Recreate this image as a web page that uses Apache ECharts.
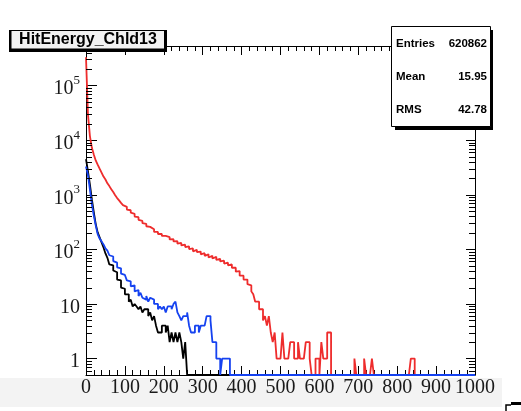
<!DOCTYPE html>
<html>
<head>
<meta charset="utf-8">
<script src="https://cdn.jsdelivr.net/npm/echarts@6/dist/echarts.min.js"></script>
<style>
  html, body { margin: 0; padding: 0; background: #ffffff; }
  #chart { width: 521px; height: 411px; }
</style>
</head>
<body>
<div id="chart"></div>
<script>
// Histogram binning and axis ranges
const binWidth = 5;
const xMin = 0;
const xMax = 1000;
const xTickStep = 100;
const yMin = 0.5;
const yMax = 5.3e5;
const yDecades = [0, 1, 2, 3, 4, 5];

// Bin contents (bin i covers [i*binWidth, (i+1)*binWidth)); missing bins are empty
const redCounts = [
  331000, 30000, 12000, 7300, 5450, 4250, 3550, 3000, 2550, 2150,
  1900, 1620, 1440, 1260, 1120, 980, 870, 790, 710, 645,
  600, 535, 520, 470, 448, 398, 388, 348, 332, 302,
  294, 265, 258, 238, 233, 209, 209, 191, 192, 176,
  176, 165, 168, 152, 153, 140, 141, 127, 131, 118,
  122, 110, 113, 101, 104, 92, 98, 89, 91, 81,
  85, 76, 81, 71, 76, 68, 73, 64, 67, 60,
  62, 55, 57, 51, 53, 46, 46, 39, 40, 33,
  33, 28, 28, 23, 22, 17, 15, 11, 11, 8,
  8, 5, 6, 4, 6, 3, 2, 3, 1, 1,
  1, 3, 1, 1, 1, 2, 2, 1, 1, 2,
  1, 1, 1, 2, 2, 1, 0, 0, 1, 1,
  0, 2, 1, 1, 3, 3, 0, 0, 0, 0,
  0, 0, 0, 0, 0, 0, 0, 0, 1, 0,
  0, 0, 0, 1, 0, 0, 0, 1, 0, 0,
  0, 0, 0, 0, 0, 0, 0, 0, 0, 0,
  0, 0, 0, 0, 0, 0, 0, 1, 1
];
const blackCounts = [
  4500, 2700, 1550, 830, 480, 290, 205, 166, 134, 108,
  84, 70, 53, 51, 41, 38, 28, 27, 20, 19,
  15, 15, 11, 12, 9, 10, 9, 8, 9, 7,
  8, 8, 6, 7, 5, 6, 4, 3, 3, 4,
  4, 3, 4, 2, 3, 2, 3, 2, 3, 2,
  1, 2
];
const blueCounts = [
  3300, 2300, 1260, 670, 420, 275, 190, 158, 140, 123,
  104, 95, 78, 74, 61, 57, 47, 45, 36, 34,
  33, 27, 26, 21, 22, 17, 18, 14, 16, 13,
  12, 14, 11, 13, 12, 10, 10, 8, 9, 8,
  9, 7, 9, 9, 8, 10, 11, 7, 6, 5,
  6, 6, 7, 4, 3, 3, 4, 4, 3, 4,
  4, 4, 6, 6, 5, 2, 2, 1, 1, 0,
  1, 1, 1, 1
];

const titleText = 'HitEnergy_Chld13';
const statsRows = [
  ['Entries', '620862'],
  ['Mean', '15.95'],
  ['RMS', '42.78']
];

// Outline of a histogram as step points; empty bins sit on the frame bottom
function stepPoints(counts) {
  const n = Math.round((xMax - xMin) / binWidth);
  const pts = [];
  for (let i = 0; i < n; i++) {
    const c = counts[i] || 0;
    pts.push([xMin + i * binWidth, c > 0 ? c : yMin]);
  }
  pts.push([xMax, pts[pts.length - 1][1]]);
  return pts;
}

// Minor tick positions on the log axis: 2..9 x 10^k
const yMinorTicks = [];
for (let e = -1; e <= 5; e++) {
  for (let m = 2; m <= 9; m++) {
    const v = m * Math.pow(10, e);
    if (v > yMin && v < yMax) yMinorTicks.push([xMin, v]);
  }
}

function yLabel(v) {
  const e = Math.round(Math.log10(v));
  if (yDecades.indexOf(e) < 0 || Math.abs(v - Math.pow(10, e)) > 1e-6 * v) return '';
  if (e === 0) return '{b|1}';
  if (e === 1) return '{b|10}';
  return '{b|10}{s|' + e + '}';
}

const serif = '"Liberation Serif", "DejaVu Serif", serif';
const sans = '"Liberation Sans", Arial, sans-serif';

const chart = echarts.init(document.getElementById('chart'), null, { renderer: 'canvas' });

const lineSeries = (name, counts, color, width) => ({
  name: name,
  type: 'line',
  step: 'end',
  data: stepPoints(counts),
  showSymbol: false,
  symbol: 'none',
  clip: true,
  lineStyle: { color: color, width: width },
  xAxisIndex: 0,
  yAxisIndex: 0,
  animation: false
});

const frameAxisX = (pos, showLabel) => ({
  type: 'value',
  position: pos,
  min: xMin,
  max: xMax,
  interval: xTickStep,
  axisLine: { show: true, onZero: false, lineStyle: { color: '#000', width: 1 } },
  axisTick: { show: true, inside: true, length: 9, lineStyle: { color: '#000' } },
  minorTick: { show: true, splitNumber: 5, length: 5, lineStyle: { color: '#000' } },
  splitLine: { show: false },
  axisLabel: {
    show: showLabel,
    margin: 3,
    color: '#1a1a1a',
    fontFamily: serif,
    fontSize: 20,
    formatter: (v) => String(v)
  }
});

const frameAxisY = (pos, showLabel, tickLen) => ({
  type: 'log',
  logBase: 10,
  position: pos,
  min: yMin,
  max: yMax,
  axisLine: { show: true, onZero: false, lineStyle: { color: '#000', width: 1 } },
  axisTick: { show: true, inside: true, length: tickLen, lineStyle: { color: '#000' } },
  splitLine: { show: false },
  axisLabel: {
    show: showLabel,
    margin: 6,
    showMinLabel: false,
    showMaxLabel: false,
    formatter: yLabel,
    color: '#1a1a1a',
    rich: {
      b: { fontFamily: serif, fontSize: 20, color: '#1a1a1a', padding: [7, 0, 0, 0] },
      s: { fontFamily: serif, fontSize: 13, color: '#1a1a1a', padding: [0, 0, 10, 0] }
    }
  }
});

chart.setOption({
  animation: false,
  backgroundColor: '#ffffff',
  grid: { left: 86, top: 46, width: 389, height: 329, containLabel: false },
  xAxis: [frameAxisX('bottom', true), frameAxisX('top', false)],
  yAxis: [frameAxisY('left', true, 11), frameAxisY('right', false, 9)],
  series: [
    lineSeries('red', redCounts, '#ee2c2c', 1.8),
    lineSeries('black', blackCounts, '#000000', 1.8),
    lineSeries('blue', blueCounts, '#1542f0', 1.8),
    {
      type: 'custom',
      xAxisIndex: 0,
      yAxisIndex: 0,
      data: yMinorTicks,
      silent: true,
      z: 5,
      renderItem: function (params, api) {
        const v = api.value(1);
        const pl = api.coord([xMin, v]);
        const pr = api.coord([xMax, v]);
        const y = Math.round(pl[1]) + 0.5;
        return {
          type: 'group',
          children: [
            { type: 'line', shape: { x1: pl[0], y1: y, x2: pl[0] + 6, y2: y }, style: { stroke: '#000', lineWidth: 1 } },
            { type: 'line', shape: { x1: pr[0], y1: y, x2: pr[0] - 6, y2: y }, style: { stroke: '#000', lineWidth: 1 } }
          ]
        };
      }
    }
  ],
  graphic: [
    // light band under the x labels
    { type: 'rect', z: -100, shape: { x: 0, y: 378, width: 502, height: 29 }, style: { fill: '#f3f3f3' } },
    // title pave with shadow
    { type: 'rect', z: 100, shape: { x: 9, y: 30, width: 158, height: 22 }, style: { fill: '#000' } },
    { type: 'rect', z: 101, shape: { x: 11.5, y: 31, width: 152.5, height: 17.5 }, style: { fill: '#f2f2f2' } },
    { type: 'text', z: 102, x: 88, y: 40, style: { text: titleText, font: 'bold 16px ' + sans, fill: '#000', align: 'center', verticalAlign: 'middle' } },
    // statistics box with shadow
    { type: 'rect', z: 100, shape: { x: 395, y: 30, width: 98, height: 100 }, style: { fill: '#000' } },
    { type: 'rect', z: 101, shape: { x: 391.5, y: 26.5, width: 99, height: 100 }, style: { fill: '#fff', stroke: '#000', lineWidth: 1 } },
    ...statsRows.flatMap((row, i) => [
      { type: 'text', z: 102, x: 396, y: 44 + i * 33, style: { text: row[0], font: 'bold 11.5px ' + sans, fill: '#000', align: 'left', verticalAlign: 'middle' } },
      { type: 'text', z: 102, x: 487, y: 44 + i * 33, style: { text: row[1], font: 'bold 11.5px ' + sans, fill: '#000', align: 'right', verticalAlign: 'middle' } }
    ]),
    // corner marker at the lower right
    { type: 'polyline', z: 100, shape: { points: [[506, 411], [506, 405], [511, 405]] }, style: { stroke: '#000', lineWidth: 1.5, fill: null } },
    { type: 'rect', z: 100, shape: { x: 511, y: 402, width: 10, height: 3 }, style: { fill: '#000' } }
  ]
});
</script>
</body>
</html>
